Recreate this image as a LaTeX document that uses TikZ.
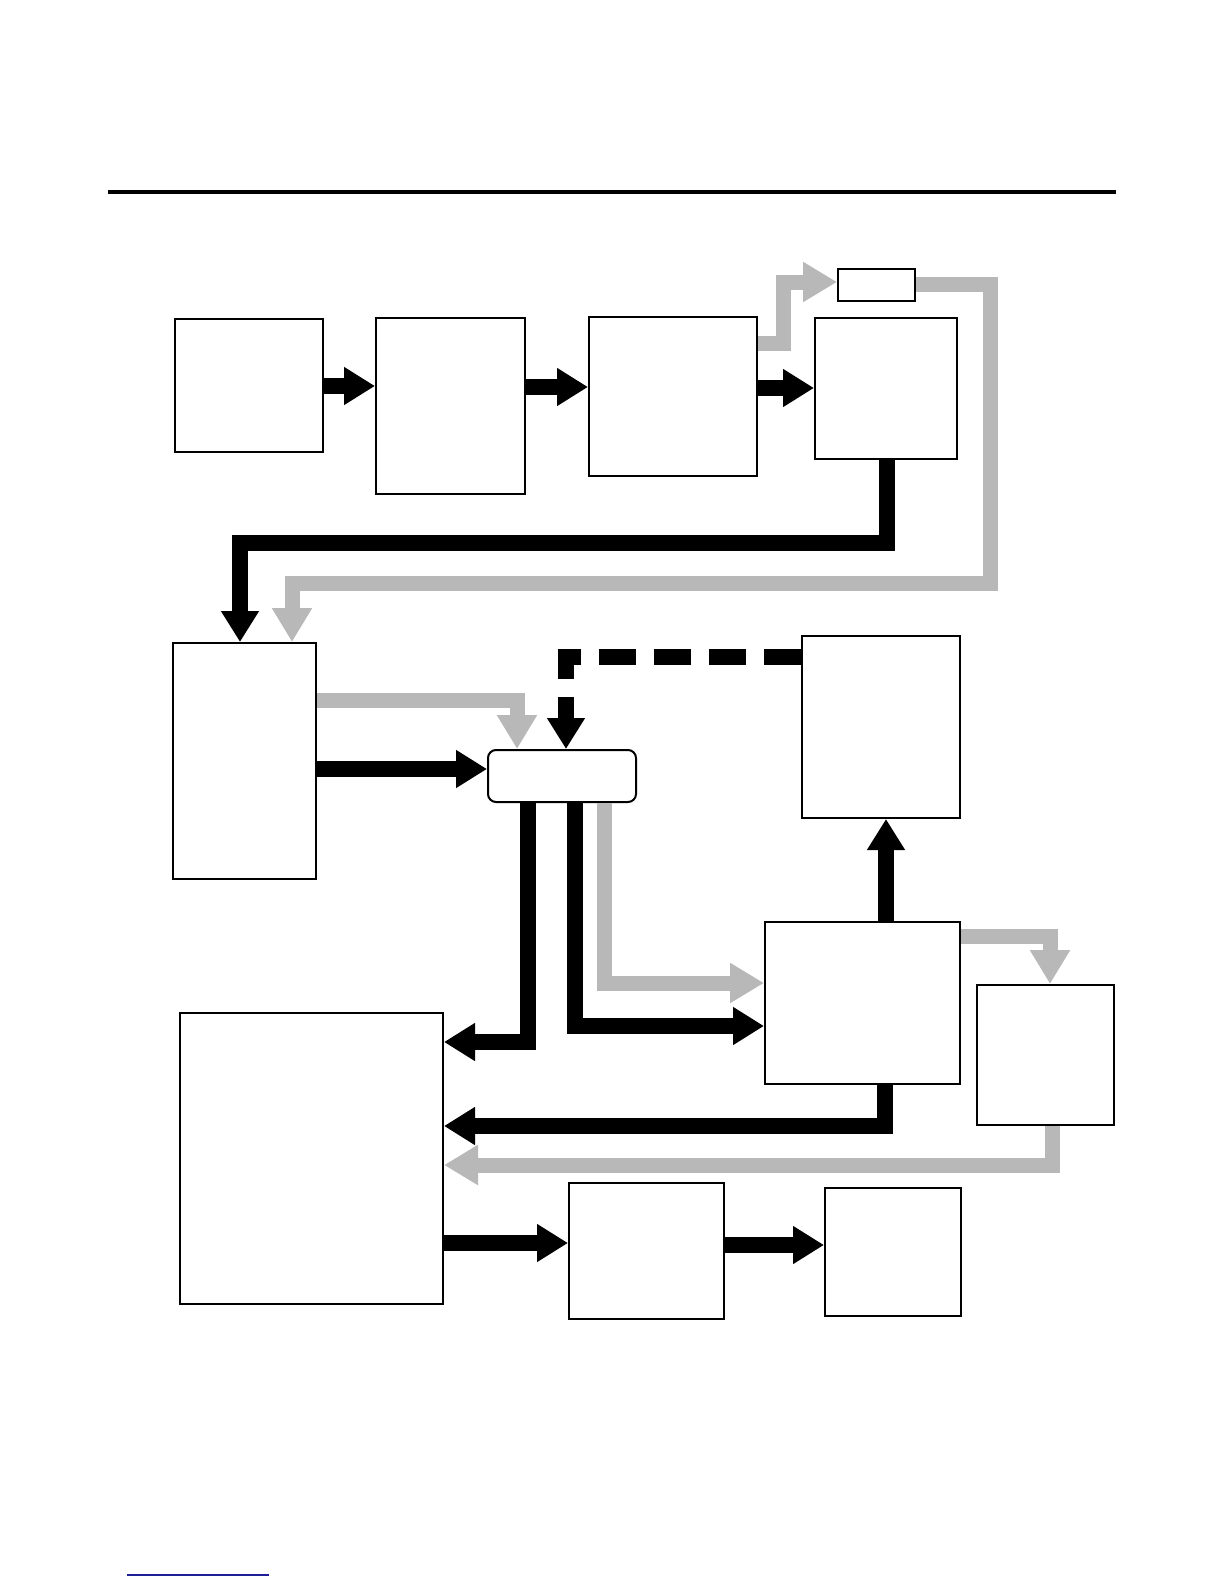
\documentclass[tikz,border=0pt]{standalone}
\usetikzlibrary{arrows.meta,fit}
\definecolor{lgray}{RGB}{184,184,184}
\definecolor{linkblue}{RGB}{30,30,150}
\tikzset{
  box/.style={draw, line width=1pt, inner sep=0pt, fill=white},
  blk/.style={line width=8pt, draw=black, line join=miter, line cap=butt, -{Triangle[length=15.5pt,width=18pt]}},
  gry/.style={line width=7.5pt, draw=lgray, line join=miter, line cap=butt, -{Triangle[length=17pt,width=19pt]}},
  dsh/.style={blk, dash pattern=on 18.5pt off 9pt}
}
\begin{document}
\begin{tikzpicture}[x=0.5pt,y=-0.5pt]
\useasboundingbox (0,0) rectangle (1224,1584);
% rules
\draw[line width=2pt] (108,192) -- (1116,192);
\draw[line width=0.6pt, linkblue] (127,1575) -- (269,1575);
% boxes
\node[box, fit={(175,319) (323,452)}] (A) {};
\node[box, fit={(376,318) (525,494)}] (B) {};
\node[box, fit={(589,317) (757,476)}] (C) {};
\node[box, fit={(815,318) (957,459)}] (D) {};
\node[box, fit={(838,269) (915,301)}] (E) {};
\node[box, fit={(173,643) (316,879)}] (F) {};
\node[box, fit={(802,636) (960,818)}] (G) {};
\node[box, rounded corners=4pt, fit={(488,750) (636,802)}] (H) {};
\node[box, fit={(180,1013) (443,1304)}] (I) {};
\node[box, fit={(765,922) (960,1084)}] (J) {};
\node[box, fit={(977,985) (1114,1125)}] (K) {};
\node[box, fit={(569,1183) (724,1319)}] (L) {};
\node[box, fit={(825,1188) (961,1316)}] (M) {};
% black connectors
\draw[blk] (A.east |- 0,386) -- (B.west |- 0,386);
\draw[blk] (B.east |- 0,387) -- (C.west |- 0,387);
\draw[blk] (C.east |- 0,388) -- (D.west |- 0,388);
\draw[blk] (D.south -| 887,0) -- (887,543) -| (F.north -| 240,0);
\draw[blk] (F.east |- 0,769) -- (H.west |- 0,769);
\draw[dsh] (G.west |- 0,657) -| (H.north -| 566,0);
\draw[blk] (H.south -| 528,0) |- (I.east |- 0,1042);
\draw[blk] (H.south -| 575,0) |- (J.west |- 0,1026);
\draw[blk] (J.north -| 886,0) -- (G.south -| 886,0);
\draw[blk] (J.south -| 885,0) |- (I.east |- 0,1126);
\draw[blk] (I.east |- 0,1243) -- (L.west |- 0,1243);
\draw[blk] (L.east |- 0,1245) -- (M.west |- 0,1245);
% grey connectors
\draw[gry] (C.east |- 0,343) -| (783,282) -- (E.west |- 0,282);
\draw[gry] (E.east |- 0,284) -| (990,583) -| (F.north -| 292,0);
\draw[gry] (F.east |- 0,700) -| (H.north -| 517,0);
\draw[gry] (H.south -| 604,0) |- (J.west |- 0,983);
\draw[gry] (J.east |- 0,936) -| (K.north -| 1050,0);
\draw[gry] (K.south -| 1052,0) |- (I.east |- 0,1165);
\end{tikzpicture}
\end{document}
